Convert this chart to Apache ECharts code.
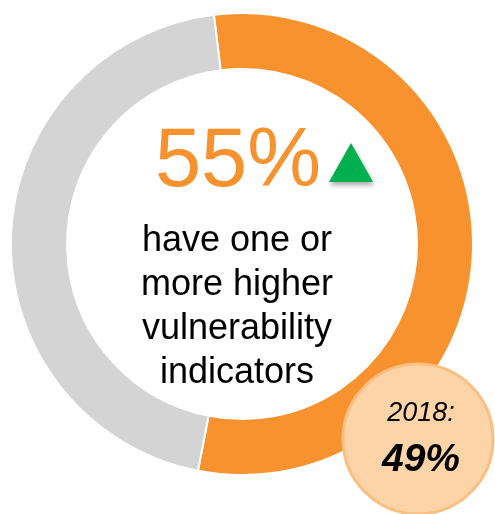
<!DOCTYPE html>
<html>
<head>
<meta charset="utf-8">
<script src="https://cdn.jsdelivr.net/npm/echarts@6/dist/echarts.min.js"></script>
<style>
  html, body { margin: 0; padding: 0; background: #fff; }
  #chart { width: 495px; height: 514px; }
</style>
</head>
<body>
<div id="chart"></div>
<script>
// Share of respondents with one or more higher vulnerability indicators
const categories = ['Higher vulnerability', 'Other'];
const shares = [55, 45];
const colors = ['#F7922E', '#D4D4D4'];
const captionLines = ['have one or', 'more higher', 'vulnerability', 'indicators'];
const priorYear = '2018';
const priorShare = 49;

const FONT = '"Liberation Sans", Arial, Helvetica, sans-serif';

const chart = echarts.init(document.getElementById('chart'), null, { renderer: 'canvas' });

const cx = 242, cy = 244;

const captionElements = captionLines.map((line, i) => ({
  type: 'text',
  x: 237,
  y: 241 + i * 44,
  z: 10,
  style: {
    text: line,
    font: '36px ' + FONT,
    fill: '#000',
    align: 'center',
    verticalAlign: 'middle'
  }
}));

chart.setOption({
  animation: false,
  backgroundColor: '#fff',
  series: [{
    type: 'pie',
    center: [cx, cy],
    radius: [175, 231],
    startAngle: 97,
    clockwise: true,
    silent: true,
    label: { show: false },
    labelLine: { show: false },
    itemStyle: { borderColor: '#fff', borderWidth: 2 },
    data: categories.map((name, i) => ({
      name,
      value: shares[i],
      itemStyle: { color: colors[i] }
    }))
  }],
  graphic: [
    {
      type: 'text',
      x: 238,
      y: 163,
      z: 10,
      style: {
        text: shares[0] + '%',
        font: '83px ' + FONT,
        fill: colors[0],
        align: 'center',
        verticalAlign: 'middle'
      }
    },
    {
      type: 'polygon',
      z: 10,
      shape: { points: [[329, 182], [351, 143], [373, 182]] },
      style: {
        fill: '#00B050',
        shadowBlur: 5,
        shadowOffsetX: 1,
        shadowOffsetY: 3,
        shadowColor: 'rgba(0,0,0,0.35)'
      }
    },
    ...captionElements,
    {
      type: 'circle',
      z: 20,
      shape: { cx: 418, cy: 439, r: 75 },
      style: { fill: '#FDD3A8', stroke: '#FCBF82', lineWidth: 3 }
    },
    {
      type: 'text',
      z: 30,
      x: 421,
      y: 413,
      style: {
        text: priorYear + ':',
        font: 'italic 27px ' + FONT,
        fill: '#000',
        align: 'center',
        verticalAlign: 'middle'
      }
    },
    {
      type: 'text',
      z: 30,
      x: 421,
      y: 460,
      style: {
        text: priorShare + '%',
        font: 'italic bold 39px ' + FONT,
        fill: '#000',
        align: 'center',
        verticalAlign: 'middle'
      }
    }
  ]
});
</script>
</body>
</html>
